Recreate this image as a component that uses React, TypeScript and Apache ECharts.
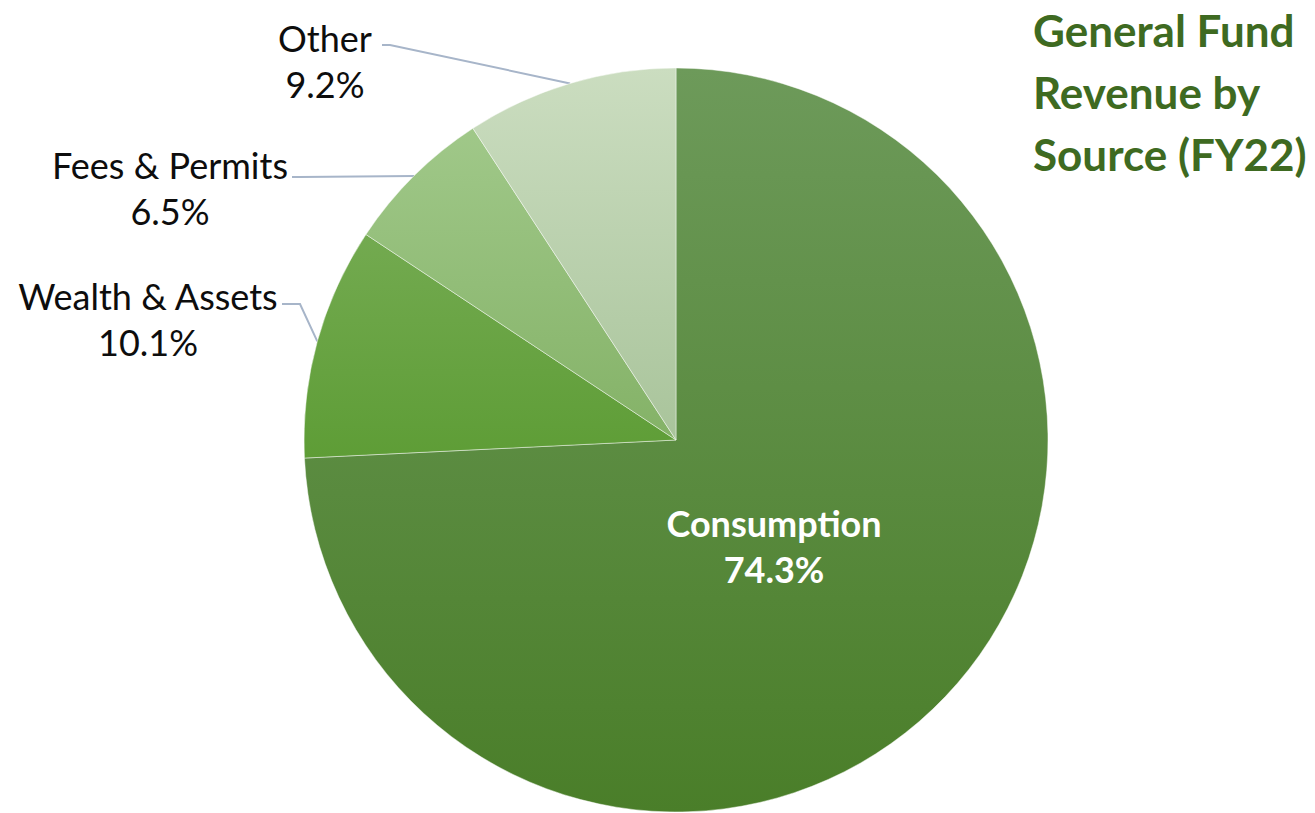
import React, { useEffect, useRef } from "react";
import * as echarts from "echarts";

const categories = ["Consumption", "Wealth & Assets", "Fees & Permits", "Other"];
const shares = [74.3, 10.1, 6.5, 9.2];
const topColors = ["#6d9a5a", "#73aa50", "#a0c889", "#cbddc0"];
const bottomColors = ["#4a7e29", "#5e9d36", "#84b267", "#a9c49b"];
const titleText = "General Fund\nRevenue by\nSource (FY22)";

// label anchor (centre) positions in px, and line attach point on label side
const labelAnchors: [number, number][] = [
  [774, 546],
  [148, 319],
  [170, 188],
  [325, 61],
];
const lineEnds: ([number, number] | null)[] = [
  null,
  [282, 304],
  [292, 177],
  [382, 45],
];
const elbows: ([number, number] | null)[] = [null, [300, 304], [300, 177], [390, 45]];

export default function App() {
  const ref = useRef<HTMLDivElement>(null);
  useEffect(() => {
    if (!ref.current) return;
    const chart = echarts.init(ref.current, null, { renderer: "svg" });
    const data = categories.map((name, i) => ({
      name,
      value: shares[i],
      itemStyle: {
        color: new echarts.graphic.LinearGradient(0, 0, 0, 1, [
          { offset: 0, color: topColors[i] },
          { offset: 1, color: bottomColors[i] },
        ]),
      },
      label:
        i === 0
          ? { position: "inside", color: "#ffffff", fontWeight: "bold" }
          : { position: "outside", color: "#0d0d0d" },
      labelLine: { show: i !== 0 },
    }));
    chart.setOption({
      animation: false,
      backgroundColor: "#ffffff",
      title: {
        text: titleText,
        left: 1028,
        top: -6,
        textStyle: {
          fontFamily: "Lato",
          fontSize: 44,
          fontWeight: "bold",
          lineHeight: 62,
          color: "#3e6a21",
        },
      },
      series: [
        {
          type: "pie",
          center: [676, 440],
          radius: 372,
          startAngle: 90,
          clockwise: true,
          itemStyle: { borderColor: "rgba(255,255,255,0.45)", borderWidth: 1 },
          label: {
            show: true,
            fontFamily: "Lato",
            fontSize: 36,
            lineHeight: 46,
            width: 320,
            overflow: "none",
            align: "center",
            formatter: (p: any) => `${p.name}\n${p.value.toFixed(1)}%`,
          },
          labelLine: {
            show: true,
            lineStyle: { color: "#a7b5c9", width: 2 },
          },
          labelLayout: (params: any) => {
            const i = params.dataIndex;
            const [x, y] = labelAnchors[i];
            const res: any = { x, y, align: "center", verticalAlign: "middle" };
            const pts = params.labelLinePoints;
            if (i !== 0 && pts && lineEnds[i] && elbows[i]) {
              res.labelLinePoints = [pts[0], elbows[i], lineEnds[i]];
            }
            return res;
          },
          data,
        },
      ],
    });
    return () => chart.dispose();
  }, []);
  return (
    <div
      ref={ref}
      style={{ position: "fixed", left: 0, top: 0, width: 1315, height: 813 }}
    />
  );
}
